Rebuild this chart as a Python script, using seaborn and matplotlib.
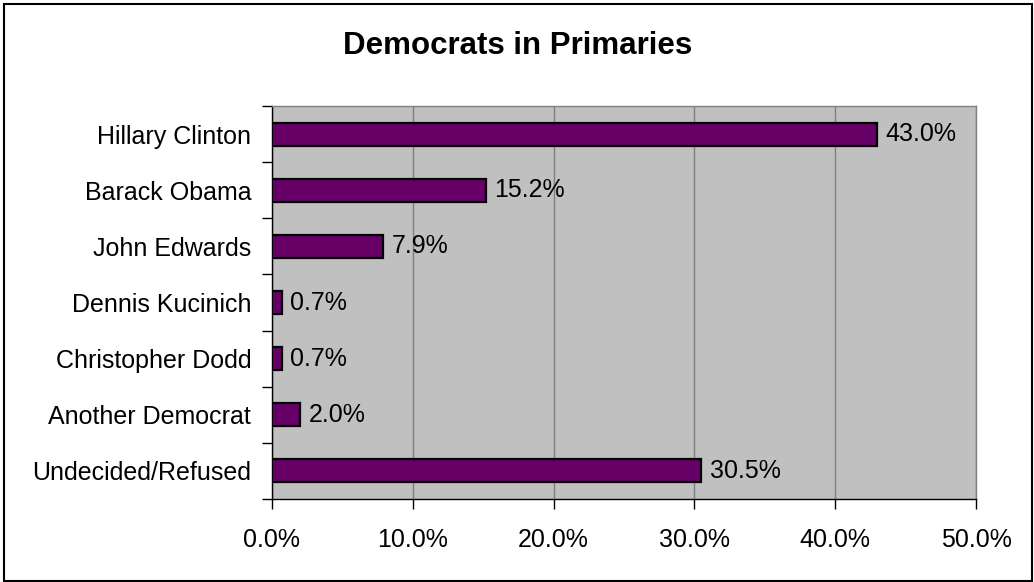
import matplotlib
matplotlib.use("Agg")
import matplotlib.pyplot as plt
import seaborn as sns
import pandas as pd
from matplotlib.patches import Rectangle
from matplotlib.ticker import MultipleLocator, FuncFormatter

candidates = ["Hillary Clinton", "Barack Obama", "John Edwards", "Dennis Kucinich",
              "Christopher Dodd", "Another Democrat", "Undecided/Refused"]
shares = [43.0, 15.2, 7.9, 0.7, 0.7, 2.0, 30.5]
x_ticks = [0, 10, 20, 30, 40, 50]

sns.set_style("white")
plt.rcParams["font.family"] = ["Liberation Sans", "DejaVu Sans"]
plt.rcParams["text.color"] = "black"
plt.rcParams["xtick.color"] = "black"
plt.rcParams["ytick.color"] = "black"
plt.rcParams["axes.labelcolor"] = "black"

df = pd.DataFrame({"candidate": candidates, "share": shares})

fig = plt.figure(figsize=(10.34, 5.82), dpi=100)
ax = fig.add_axes([272 / 1034, 1 - 499 / 582, 704 / 1034, 393 / 582])
ax.set_facecolor("#C0C0C0")

sns.barplot(data=df, x="share", y="candidate", orient="h", order=candidates,
            color="#660066", saturation=1, width=0.41,
            edgecolor="black", linewidth=1.6, ax=ax, zorder=3)

ax.set_xlim(x_ticks[0], x_ticks[-1])
ax.set_xticks(x_ticks)
ax.xaxis.set_major_formatter(FuncFormatter(lambda v, _: f"{v:.1f}%"))
ax.grid(axis="x", color="#808080", linewidth=1.0, zorder=0)
ax.grid(axis="y", visible=False)
ax.set_axisbelow(True)

# category labels sit between the tick marks drawn at category boundaries
n = len(candidates)
ax.set_yticks(range(n))
ax.set_yticklabels(candidates)
ax.set_yticks([i - 0.5 for i in range(n + 1)], minor=True)
ax.set_ylim(n - 0.5, -0.5)
ax.tick_params(axis="y", which="major", left=True, length=0, pad=15, labelsize=18,
               labelcolor="black")
ax.tick_params(axis="y", which="minor", left=True, length=7, width=1.0,
               color="black", direction="out")
ax.tick_params(axis="x", which="major", bottom=True, length=7, width=1.0, color="black",
               direction="out", pad=14, labelsize=18, labelcolor="black")
ax.set_xlabel("")
ax.set_ylabel("")

for side in ["left", "bottom"]:
    ax.spines[side].set_visible(True)
    ax.spines[side].set_color("black")
    ax.spines[side].set_linewidth(1.0)
for side in ["top", "right"]:
    ax.spines[side].set_visible(True)
    ax.spines[side].set_color("#808080")
    ax.spines[side].set_linewidth(1.0)

for container in ax.containers:
    ax.bar_label(container, labels=[f"{v:.1f}%" for v in shares],
                 padding=6, fontsize=18, color="black")

fig.text(518 / 1034, 1 - 46 / 582, "Democrats in Primaries", ha="center", va="center",
         fontsize=22.5, fontweight="bold", color="black")

fig.patches.append(Rectangle((3.5 / 1034, 1 - 581 / 582), 1028.5 / 1034, 577 / 582,
                             transform=fig.transFigure, fill=False,
                             edgecolor="black", linewidth=1.5))

fig.savefig("out.png", dpi=100, facecolor="white")
